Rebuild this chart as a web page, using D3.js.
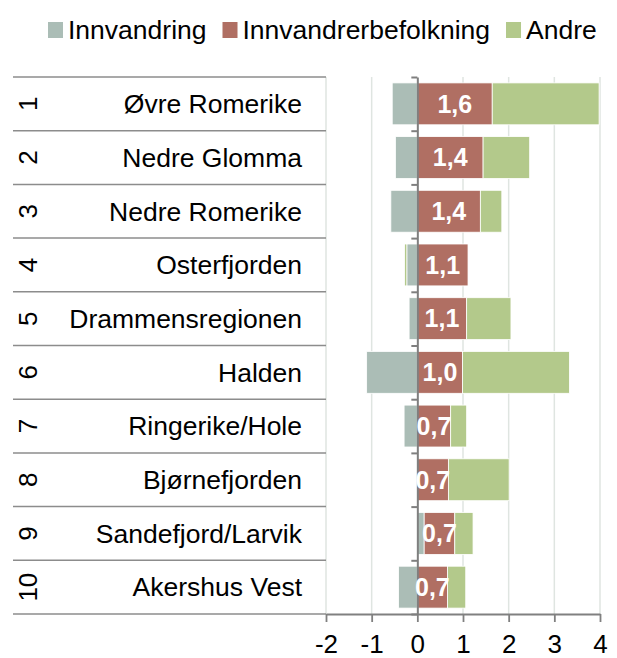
<!DOCTYPE html>
<html>
<head>
<meta charset="utf-8">
<script src="https://cdn.jsdelivr.net/npm/d3@7"></script>
<style>
    body { margin: 0; background: #fff; }
    svg { display: block; font-family: "Liberation Sans", Arial, sans-serif; }
</style>
</head>
<body>
<div id="chart"></div>
<script>
// 1: DATA
const ranks = [1, 2, 3, 4, 5, 6, 7, 8, 9, 10];
const regions = ["Øvre Romerike", "Nedre Glomma", "Nedre Romerike", "Osterfjorden", "Drammensregionen",
    "Halden", "Ringerike/Hole", "Bjørnefjorden", "Sandefjord/Larvik", "Akershus Vest"];
const innvandring = [-0.55, -0.48, -0.58, -0.23, -0.18, -1.11, -0.29, 0, 0.15, -0.41];
const innvandrerbefolkning = [1.64, 1.44, 1.38, 1.11, 1.08, 0.99, 0.73, 0.68, 0.67, 0.66];
const andre = [2.34, 1.02, 0.47, -0.05, 0.97, 2.34, 0.35, 1.33, 0.40, 0.40];
const xTicks = [-2, -1, 0, 1, 2, 3, 4];
const seriesNames = ["Innvandring", "Innvandrerbefolkning", "Andre"];
const seriesColors = ["#abbdb6", "#b06f63", "#b3c98b"];

// 2: GLOBAL VARIABLES
const width = 617;
const height = 658;
const plot = { left: 326, right: 600, top: 77, bottom: 614 };
const tableLeft = 13;

const svg = d3.select("#chart")
    .append("svg")
    .attr("width", width)
    .attr("height", height);

const rows = regions.map((r, i) => ({
    region: r,
    rank: ranks[i],
    Innvandring: innvandring[i],
    Innvandrerbefolkning: innvandrerbefolkning[i],
    Andre: andre[i]
}));

// 3: SCALES
const xScale = d3.scaleLinear().domain([-2, 4]).range([plot.left, plot.right]);
const yScale = d3.scaleBand()
    .domain(regions)
    .range([plot.top, plot.bottom])
    .paddingInner(0.22)
    .paddingOuter(0.11);
const rowScale = d3.scaleLinear().domain([0, regions.length]).range([plot.top, plot.bottom]);
const colorScale = d3.scaleOrdinal().domain(seriesNames).range(seriesColors);

// 4: GRIDLINES
svg.append("g")
    .selectAll("line")
    .data(xTicks.filter(t => t !== 0))
    .join("line")
    .attr("x1", d => xScale(d))
    .attr("x2", d => xScale(d))
    .attr("y1", plot.top)
    .attr("y2", plot.bottom)
    .attr("stroke", "#dfe5e1")
    .attr("stroke-width", 1.5);

// 5: TABLE (rank + region name)
svg.append("g")
    .selectAll("line")
    .data(d3.range(regions.length + 1))
    .join("line")
    .attr("x1", tableLeft)
    .attr("x2", plot.left)
    .attr("y1", d => rowScale(d))
    .attr("y2", d => rowScale(d))
    .attr("stroke", "#8c8c8c")
    .attr("stroke-width", 1.5);

svg.append("g")
    .selectAll("text")
    .data(rows)
    .join("text")
    .attr("x", 302)
    .attr("y", d => yScale(d.region) + yScale.bandwidth() / 2)
    .attr("dy", "0.35em")
    .style("text-anchor", "end")
    .style("font-size", "26.5px")
    .text(d => d.region);

svg.append("g")
    .selectAll("text")
    .data(rows)
    .join("text")
    .attr("transform", d => `translate(28,${yScale(d.region) + yScale.bandwidth() / 2}) rotate(-90)`)
    .attr("dy", "0.35em")
    .style("text-anchor", "middle")
    .style("font-size", "26px")
    .text(d => d.rank);

// 6: STACKED BARS
const stacked = d3.stack()
    .keys(seriesNames)
    .offset(d3.stackOffsetDiverging)(rows);

svg.append("g")
    .selectAll("g")
    .data(stacked)
    .join("g")
    .attr("fill", d => colorScale(d.key))
    .selectAll("rect")
    .data(d => d)
    .join("rect")
    .attr("x", d => xScale(Math.min(d[0], d[1])))
    .attr("width", d => Math.abs(xScale(d[1]) - xScale(d[0])))
    .attr("y", d => yScale(d.data.region))
    .attr("height", yScale.bandwidth())
    .attr("stroke", "#fff")
    .attr("stroke-width", 0.8);

// 7: AXES
const xAxis = svg.append("g")
    .attr("transform", `translate(0,${plot.bottom})`)
    .call(d3.axisBottom(xScale)
        .tickValues(xTicks)
        .tickFormat(d => String(d))
        .tickSize(8)
        .tickSizeOuter(0)
        .tickPadding(13));
xAxis.select(".domain").attr("stroke", "#808080").attr("stroke-width", 1.8);
xAxis.selectAll(".tick line").attr("stroke", "#808080").attr("stroke-width", 1.8);
xAxis.selectAll(".tick text")
    .attr("fill", "#000")
    .style("font-size", "26px")
    .style("font-family", "'Liberation Sans', Arial, sans-serif");

const yAxis = svg.append("g")
    .attr("transform", `translate(${xScale(0)},0)`)
    .call(d3.axisLeft(rowScale).tickValues(d3.range(regions.length + 1)).tickSize(6).tickSizeOuter(0).tickFormat(""));
yAxis.select(".domain").attr("stroke", "#7f7f7f").attr("stroke-width", 2);
yAxis.selectAll(".tick line").attr("stroke", "#7f7f7f").attr("stroke-width", 2);

// 8: VALUE LABELS (Innvandrerbefolkning)
const mid = stacked.find(s => s.key === "Innvandrerbefolkning");
svg.append("g")
    .selectAll("text")
    .data(mid)
    .join("text")
    .attr("x", d => (xScale(d[0]) + xScale(d[1])) / 2)
    .attr("y", d => yScale(d.data.region) + yScale.bandwidth() / 2)
    .attr("dy", "0.35em")
    .style("text-anchor", "middle")
    .style("font-size", "25px")
    .style("font-weight", "bold")
    .attr("fill", "#fff")
    .text(d => d3.format(".1f")(d.data.Innvandrerbefolkning).replace(".", ","));

// 9: LEGEND
const legend = svg.append("g").attr("class", "legend");
let lx = 48;
seriesNames.forEach(name => {
    legend.append("rect")
        .attr("x", lx)
        .attr("y", 22)
        .attr("width", 15)
        .attr("height", 16)
        .attr("fill", colorScale(name));
    const t = legend.append("text")
        .attr("x", lx + 20)
        .attr("y", 38.5)
        .style("font-size", "26.5px")
        .text(name);
    lx += 20 + t.node().getComputedTextLength() + 16;
});
</script>
</body>
</html>
